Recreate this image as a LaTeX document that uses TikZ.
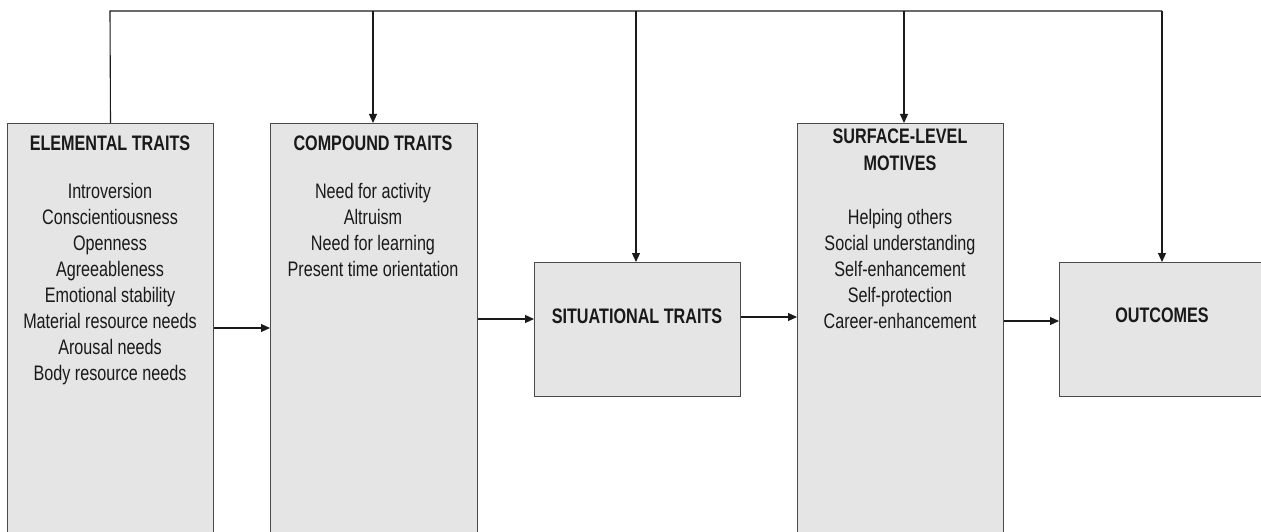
\documentclass[tikz,border=0pt]{standalone}
\usepackage{fontspec}
\setmainfont[FakeStretch=0.77]{Liberation Sans}
\usetikzlibrary{arrows.meta}
\definecolor{boxfill}{HTML}{E5E5E5}
\definecolor{boxline}{HTML}{4A4A4A}
\definecolor{conn}{HTML}{1A1A1A}
\tikzset{
  box/.style={draw=boxline, fill=boxfill, line width=1pt, inner sep=0pt, anchor=north west},
  txt/.style={font=\fontsize{21}{26}\selectfont, align=center, inner sep=0pt, text=black!90},
  head/.style={txt, font=\fontsize{21}{27}\selectfont\bfseries},
  link/.style={draw=conn, line width=1.1pt},
  arr/.style={link, -{Triangle[length=9pt,width=8pt]}}
}
\begin{document}
\begin{tikzpicture}[x=1pt,y=1pt]
\useasboundingbox (0,0) rectangle (1261,-532);
% boxes
\node[box, minimum width=206pt, minimum height=420pt] (el) at (7,-123) {};
\node[box, minimum width=207pt, minimum height=420pt] (cp) at (270,-123) {};
\node[box, minimum width=206pt, minimum height=134pt] (si) at (534,-262) {};
\node[box, minimum width=206pt, minimum height=420pt] (sf) at (797,-123) {};
\node[box, minimum width=215pt, minimum height=134pt] (oc) at (1059,-262) {};
% texts
\node[head] (elh) at (110,-143) {ELEMENTAL TRAITS};
\node[txt, anchor=north] (elt) at (110,-183) {Introversion\\Conscientiousness\\Openness\\Agreeableness\\Emotional stability\\Material resource needs\\Arousal needs\\Body resource needs};
\node[head] (cph) at (373,-143) {COMPOUND TRAITS};
\node[txt, anchor=north] (cpt) at (373,-183) {Need for activity\\Altruism\\Need for learning\\Present time orientation};
\node[head] (sih) at (637,-316) {SITUATIONAL TRAITS};
\node[head, anchor=north] (sfh) at (900,-129) {SURFACE-LEVEL\\MOTIVES};
\node[txt, anchor=north] (sft) at (900,-209) {Helping others\\Social understanding\\Self-enhancement\\Self-protection\\Career-enhancement};
\node[head] (och) at (1162,-315) {OUTCOMES};
% top feedback line
\coordinate (top) at (110,-11);
\coordinate (cpin) at (373,-123);
\coordinate (siin) at (636,-262);
\coordinate (sfin) at (904,-123);
\coordinate (ocin) at (1162,-262);
\draw[link] (el.north) -- (top) -- (top -| ocin);
\draw[arr] (top -| cpin) -- (cpin);
\draw[arr] (top -| siin) -- (siin);
\draw[arr] (top -| sfin) -- (sfin);
\draw[arr] (top -| ocin) -- (ocin);
% forward arrows
\draw[arr] (el.east |- 0,-328) -- (cp.west |- 0,-328);
\draw[arr] (cp.east |- 0,-319) -- (si.west |- 0,-319);
\draw[arr] (si.east |- 0,-317) -- (sf.west |- 0,-317);
\draw[arr] (sf.east |- 0,-321) -- (oc.west |- 0,-321);
\end{tikzpicture}
\end{document}
